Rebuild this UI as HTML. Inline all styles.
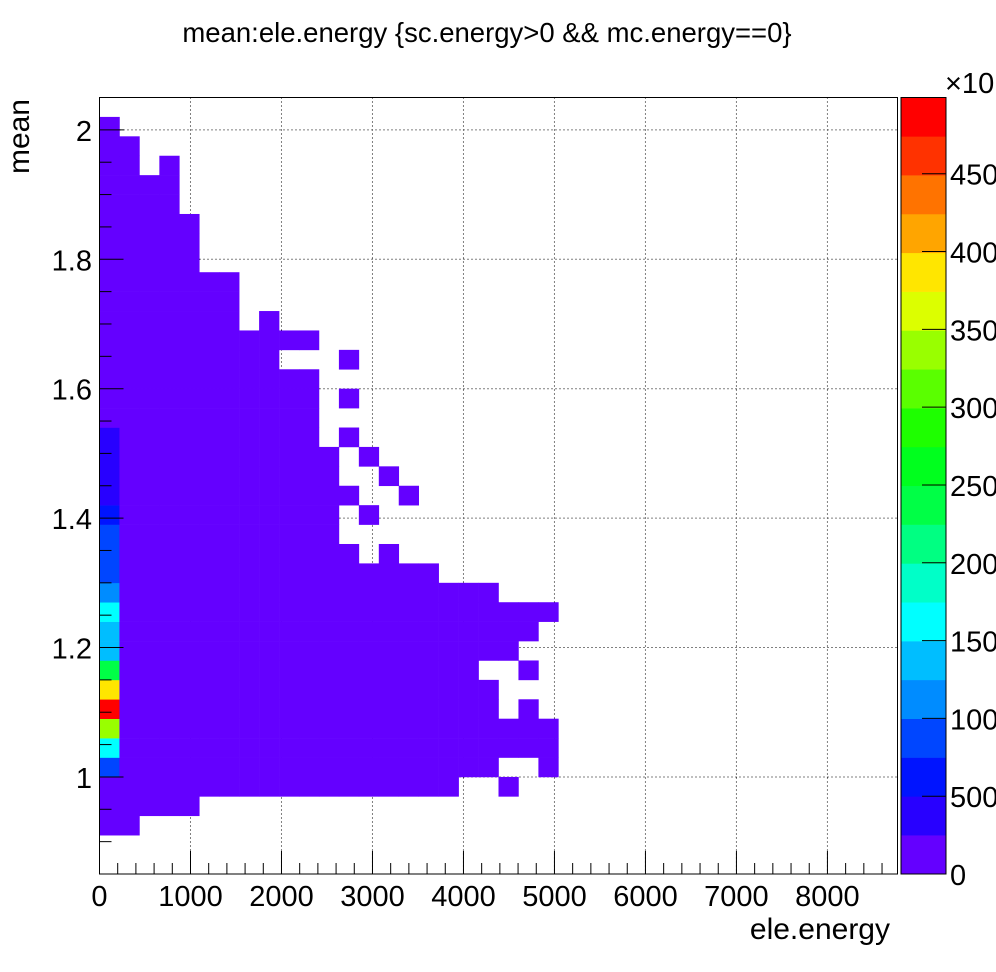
<!DOCTYPE html>
<html><head><meta charset="utf-8">
<style>
html,body{margin:0;padding:0;background:#fff;}
svg{display:block;font-family:"Liberation Sans",sans-serif;}
</style></head>
<body>
<svg id="chart" width="996" height="972" viewBox="0 0 996 972" xmlns="http://www.w3.org/2000/svg">
<rect x="0" y="0" width="996" height="972" fill="#fff"/>
<text x="487" y="42" font-size="27.5" text-anchor="middle">mean:ele.energy {sc.energy&gt;0 &amp;&amp; mc.energy==0}</text>
<g id="grid"></g>
<g id="cells"></g>
<g id="axes"></g>
<g id="cbar"></g>
<text x="890" y="939" font-size="30" text-anchor="end">ele.energy</text>
<text transform="translate(29,99) rotate(-90)" font-size="30" text-anchor="end">mean</text>
<text x="945" y="93" font-size="29">×10</text>
</svg>
<script>
// ---- data ----
const xMin = 0, xMax = 8770, xBinWidth = 219.25;
const yMin = 0.85, yMax = 2.05, yBinHeight = 0.03;
const zMax = 4990;
const xTickLabels = [0,1000,2000,3000,4000,5000,6000,7000,8000];
const yTickLabels = [1,1.2,1.4,1.6,1.8,2];
const zTickLabels = [0,500,1000,1500,2000,2500,3000,3500,4000,4500];
const P = 30;
// counts[row][col], row 0 = lowest y bin
const counts = [
[],
[],
[P,P],
[P,P,P,P,P],
[P,P,P,P,P,P,P,P,P,P,P,P,P,P,P,P,P,P,0,0,P],
[900,P,P,P,P,P,P,P,P,P,P,P,P,P,P,P,P,P,P,P,0,0,P],
[1600,P,P,P,P,P,P,P,P,P,P,P,P,P,P,P,P,P,P,P,P,P,P],
[3350,P,P,P,P,P,P,P,P,P,P,P,P,P,P,P,P,P,P,P,P,P,P],
[4990,P,P,P,P,P,P,P,P,P,P,P,P,P,P,P,P,P,P,P,0,P],
[3850,P,P,P,P,P,P,P,P,P,P,P,P,P,P,P,P,P,P,P],
[2400,P,P,P,P,P,P,P,P,P,P,P,P,P,P,P,P,P,P,0,0,P],
[1350,P,P,P,P,P,P,P,P,P,P,P,P,P,P,P,P,P,P,P,P],
[1350,P,P,P,P,P,P,P,P,P,P,P,P,P,P,P,P,P,P,P,P,P],
[1600,P,P,P,P,P,P,P,P,P,P,P,P,P,P,P,P,P,P,P,P,P,P],
[1100,P,P,P,P,P,P,P,P,P,P,P,P,P,P,P,P,P,P,P],
[900,P,P,P,P,P,P,P,P,P,P,P,P,P,P,P,P],
[900,P,P,P,P,P,P,P,P,P,P,P,P,0,P],
[900,P,P,P,P,P,P,P,P,P,P,P],
[600,P,P,P,P,P,P,P,P,P,P,P,0,P],
[400,P,P,P,P,P,P,P,P,P,P,P,P,0,0,P],
[400,P,P,P,P,P,P,P,P,P,P,P,0,0,P],
[400,P,P,P,P,P,P,P,P,P,P,P,0,P],
[400,P,P,P,P,P,P,P,P,P,P,0,P],
[P,P,P,P,P,P,P,P,P,P,P],
[P,P,P,P,P,P,P,P,P,P,P,0,P],
[P,P,P,P,P,P,P,P,P,P,P],
[P,P,P,P,P,P,P,P,P,0,0,0,P],
[P,P,P,P,P,P,P,P,P,P,P],
[P,P,P,P,P,P,P,0,P],
[P,P,P,P,P,P,P],
[P,P,P,P,P,P,P],
[P,P,P,P,P],
[P,P,P,P,P],
[P,P,P,P,P],
[P,P,P,P],
[P,P,P,P],
[P,P,0,P],
[P,P],
[P],
[]
];
const palette = ["#6400ff","#2800ff","#0014ff","#0046ff","#008cff","#00beff","#00ffff","#00ffc8","#00ff82","#00ff46",
"#00ff1e","#1eff00","#5aff00","#99ff00","#dcff00","#ffe600","#ffa500","#ff7300","#ff3200","#ff0000"];
// ---- layout ----
const L = 99.5, R = 897.5, T = 97.5, B = 874;
const NS = "http://www.w3.org/2000/svg";
function sx(v){ return L + (v - xMin) / (xMax - xMin) * (R - L); }
function sy(v){ return B - (v - yMin) / (yMax - yMin) * (B - T); }
function mk(tag, attrs, parent){ const e = document.createElementNS(NS, tag); for (const k in attrs) e.setAttribute(k, attrs[k]); parent.appendChild(e); return e; }
const cells = document.getElementById('cells');
const grid = document.getElementById('grid');
const axes = document.getElementById('axes');
const cbar = document.getElementById('cbar');
// grid
xTickLabels.forEach(v => { if (v === 0) return;
  const g = mk('line', {x1:sx(v), x2:sx(v), y1:T, y2:B, stroke:'#000', 'stroke-width':1, 'stroke-dasharray':'1,3'}, grid);
  
  
});
yTickLabels.forEach(v => {
  const g = mk('line', {x1:L, x2:R, y1:sy(v), y2:sy(v), stroke:'#000', 'stroke-width':1, 'stroke-dasharray':'1,3'}, grid);
  
  
});
// cells
counts.forEach((row, i) => {
  row.forEach((z, j) => {
    if (z <= 0) return;
    let lvl = Math.floor(z / zMax * 20); if (lvl > 19) lvl = 19;
    const x0 = sx(xMin + j * xBinWidth), x1 = sx(xMin + (j + 1) * xBinWidth);
    const y1 = sy(yMin + i * yBinHeight), y0 = sy(yMin + (i + 1) * yBinHeight);
    const r = mk('rect', {x:x0, y:y0, width:x1 - x0 + 0.3, height:y1 - y0 + 0.3, fill:palette[lvl]}, cells);
    
    
  });
});
// frame
const fr = mk('rect', {x:L, y:T, width:R - L, height:B - T, fill:'none', stroke:'#000', 'stroke-width':1}, axes);


// x ticks
for (let v = 0; v <= xMax; v += 200) {
  const major = v % 1000 === 0;
  const t = mk('line', {x1:sx(v), x2:sx(v), y1:B, y2:B - (major ? 23 : 11), stroke:'#000', 'stroke-width':1}, axes);
  
  
}
xTickLabels.forEach(v => {
  const t = mk('text', {x:sx(v), y:906, 'font-size':29, 'text-anchor':'middle'}, axes);
  t.textContent = String(v);
  
  
});
// y ticks
for (let k = 1; k * 0.05 + yMin <= yMax + 1e-9; k++) {
  const v = yMin + k * 0.05;
  const major = Math.abs(Math.round(v * 5) - v * 5) < 1e-6;
  const t = mk('line', {x1:L, x2:L + (major ? 24 : 12), y1:sy(v), y2:sy(v), stroke:'#000', 'stroke-width':1}, axes);
  
  
}
yTickLabels.forEach(v => {
  const t = mk('text', {x:92, y:sy(v) + 11, 'font-size':29, 'text-anchor':'end'}, axes);
  t.textContent = String(v);
  
  
});
// color bar
const CL = 901, CR = 946;
function sz(v){ return B - v / zMax * (B - T); }
for (let k = 0; k < 20; k++) {
  const r = mk('rect', {x:CL, y:sz((k + 1) * zMax / 20), width:CR - CL, height:(B - T) / 20 + 0.3, fill:palette[k]}, cbar);
  
  
}
const cf = mk('rect', {x:CL, y:T, width:CR - CL, height:B - T, fill:'none', stroke:'#000', 'stroke-width':1}, cbar);


zTickLabels.forEach(v => {
  const t = mk('line', {x1:CR - 24, x2:CR, y1:sz(v), y2:sz(v), stroke:'#000', 'stroke-width':1}, cbar);
  
  
  const l = mk('text', {x:950, y:sz(v) + 11, 'font-size':29}, cbar);
  l.textContent = String(v);
  
  
});
</script>
</body></html>
